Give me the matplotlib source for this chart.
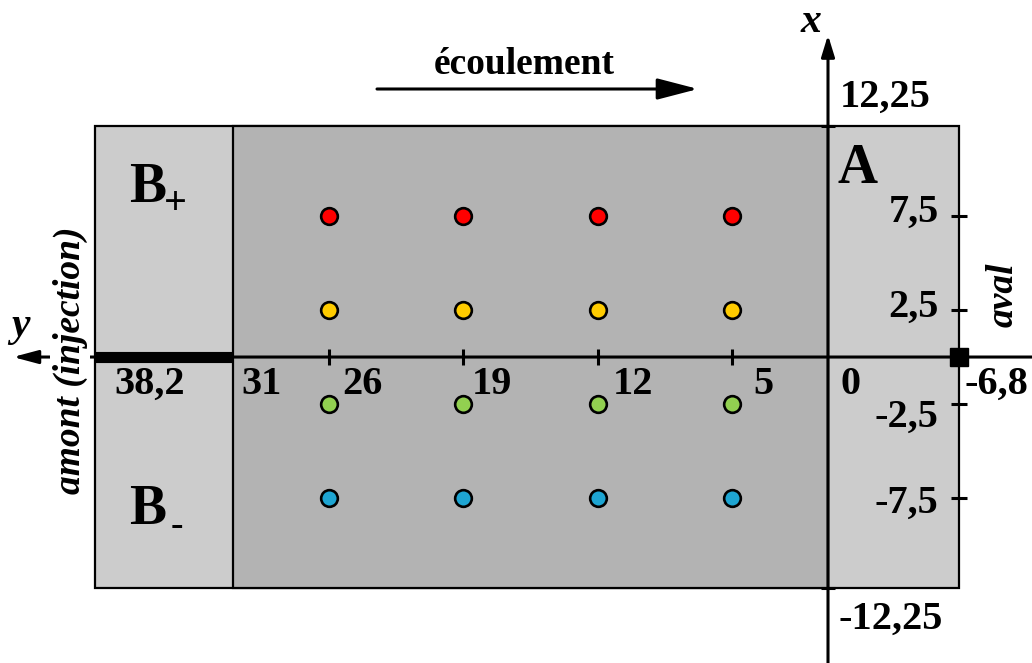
import matplotlib
matplotlib.use('Agg')
import matplotlib.pyplot as plt
from matplotlib.patches import Rectangle

plt.rcParams['font.family'] = ['Liberation Serif', 'DejaVu Serif']

# domain bounds along the flow axis y (upstream on the left) and across x
y_left = 38.2
y_mid = 31
y_right = -6.8
x_half = 12.25

# probe grid
probe_y = [26, 19, 12, 5]
probe_x = [7.5, 2.5, -2.5, -7.5]
probe_colours = ['#ff0000', '#ffcc00', '#92d050', '#1ea5d2']

# labelled positions along y
y_ticks = [y_left, y_mid, 26, 19, 12, 5, 0, y_right]

W, H = 1032, 663


def fmt(v):
    # french decimal comma
    return f"{v:g}".replace('.', ',')


def off(dx, dy):
    # pixel offset (dy downwards) -> points
    return (dx * 0.72, -dy * 0.72)


def fig_xy(px, py):
    return (px / W, 1 - py / H)


fig = plt.figure(figsize=(W / 100, H / 100), dpi=100)
ax = fig.add_axes([0, 0, 1, 1])
ax.set_xlim(43.125, -10.625)
ax.set_ylim(-16.24, 18.95)
ax.axis('off')

# domain: light outer box, darker central zone
ax.add_patch(Rectangle((y_right, -x_half), y_left - y_right, 2 * x_half,
                       fc='#cccccc', ec='black', lw=1.6, zorder=1))
ax.add_patch(Rectangle((0, -x_half), y_mid, 2 * x_half,
                       fc='#b3b3b3', ec='black', lw=1.6, zorder=1))

# axes with arrow heads
ax.annotate('', xy=(42.45, 0), xytext=(-10.625, 0), zorder=2,
            arrowprops=dict(arrowstyle='-|>,head_length=15,head_width=4', mutation_scale=1,
                            lw=2.2, color='black', shrinkA=0, shrinkB=0))
ax.annotate('', xy=(0, 17.09), xytext=(0, -16.24), zorder=2,
            arrowprops=dict(arrowstyle='-|>,head_length=13,head_width=4', mutation_scale=1,
                            lw=2.2, color='black', shrinkA=0, shrinkB=0))

# injection segment and outlet marker
ax.plot([y_left, y_mid], [0, 0], color='black', lw=8, solid_capstyle='butt', zorder=3)
ax.plot([y_right], [0], marker='s', ms=13, color='black', zorder=3)

# tick marks
ax.plot(probe_y, [0] * len(probe_y), ls='none', marker='|', ms=11, mew=2.2, color='black', zorder=3)
ax.plot([y_right] * len(probe_x), probe_x, ls='none', marker='_', ms=11, mew=2.2, color='black', zorder=3)
ax.plot([0, 0], [x_half, -x_half], ls='none', marker='_', ms=10, mew=2.2, color='black', zorder=3)

# probes
for xv, c in zip(probe_x, probe_colours):
    ax.plot(probe_y, [xv] * len(probe_y), ls='none', marker='o', ms=12,
            mfc=c, mec='black', mew=1.9, zorder=4)

lab = dict(textcoords='offset points', fontsize=29, fontweight='bold', zorder=5)

# labels under the y axis
y_dx = [20, 9, 13, 9, 15, 21, 12, 6]
for v, dx in zip(y_ticks, y_dx):
    ax.annotate(fmt(v), xy=(v, 0), xytext=off(dx, 27), ha='left', va='center', **lab)

# labels along the right edge
x_dy = [-3, -3, 13, 5]
for v, dy in zip(probe_x, x_dy):
    ax.annotate(fmt(v), xy=(y_right, v), xytext=off(-20, dy),
                ha='right', va='center', **lab)

ax.annotate(fmt(x_half), xy=(0, x_half), xytext=off(12, -29), ha='left', va='center', **lab)
ax.annotate(fmt(-x_half), xy=(0, -x_half), xytext=off(10, 32), ha='left', va='center', **lab)

# flow direction
ax.annotate('', xy=fig_xy(698, 89), xytext=fig_xy(377, 89), xycoords='figure fraction',
            arrowprops=dict(arrowstyle='-|>,head_length=25,head_width=6.5', mutation_scale=1,
                            lw=2.2, color='black', shrinkA=0, shrinkB=0))
fig.text(*fig_xy(524, 64), 'écoulement', ha='center', va='center', fontsize=27, fontweight='bold')

# zone names
fig.text(*fig_xy(129, 202), 'B', ha='left', va='baseline', fontsize=40, fontweight='bold')
fig.text(*fig_xy(175, 205), '+', ha='center', va='center', fontsize=29, fontweight='bold')
fig.text(*fig_xy(129, 524), 'B', ha='left', va='baseline', fontsize=40, fontweight='bold')
fig.text(*fig_xy(177, 526), '-', ha='center', va='center', fontsize=27, fontweight='bold')
fig.text(*fig_xy(837, 183), 'A', ha='left', va='baseline', fontsize=40, fontweight='bold')

# axis names
fig.text(*fig_xy(811, 22), 'x', ha='center', va='center', fontsize=30,
         fontweight='bold', style='italic')
fig.text(*fig_xy(20, 326), 'y', ha='center', va='center', fontsize=30,
         fontweight='bold', style='italic')
fig.text(*fig_xy(1003, 295), 'aval', ha='center', va='center', rotation=90,
         fontsize=27, fontweight='bold', style='italic')
fig.text(*fig_xy(70, 360), 'amont (injection)', ha='center', va='center', rotation=90,
         fontsize=27, fontweight='bold', style='italic', zorder=6,
         bbox=dict(facecolor='white', edgecolor='none', pad=2))

fig.savefig('out.png', dpi=100)
